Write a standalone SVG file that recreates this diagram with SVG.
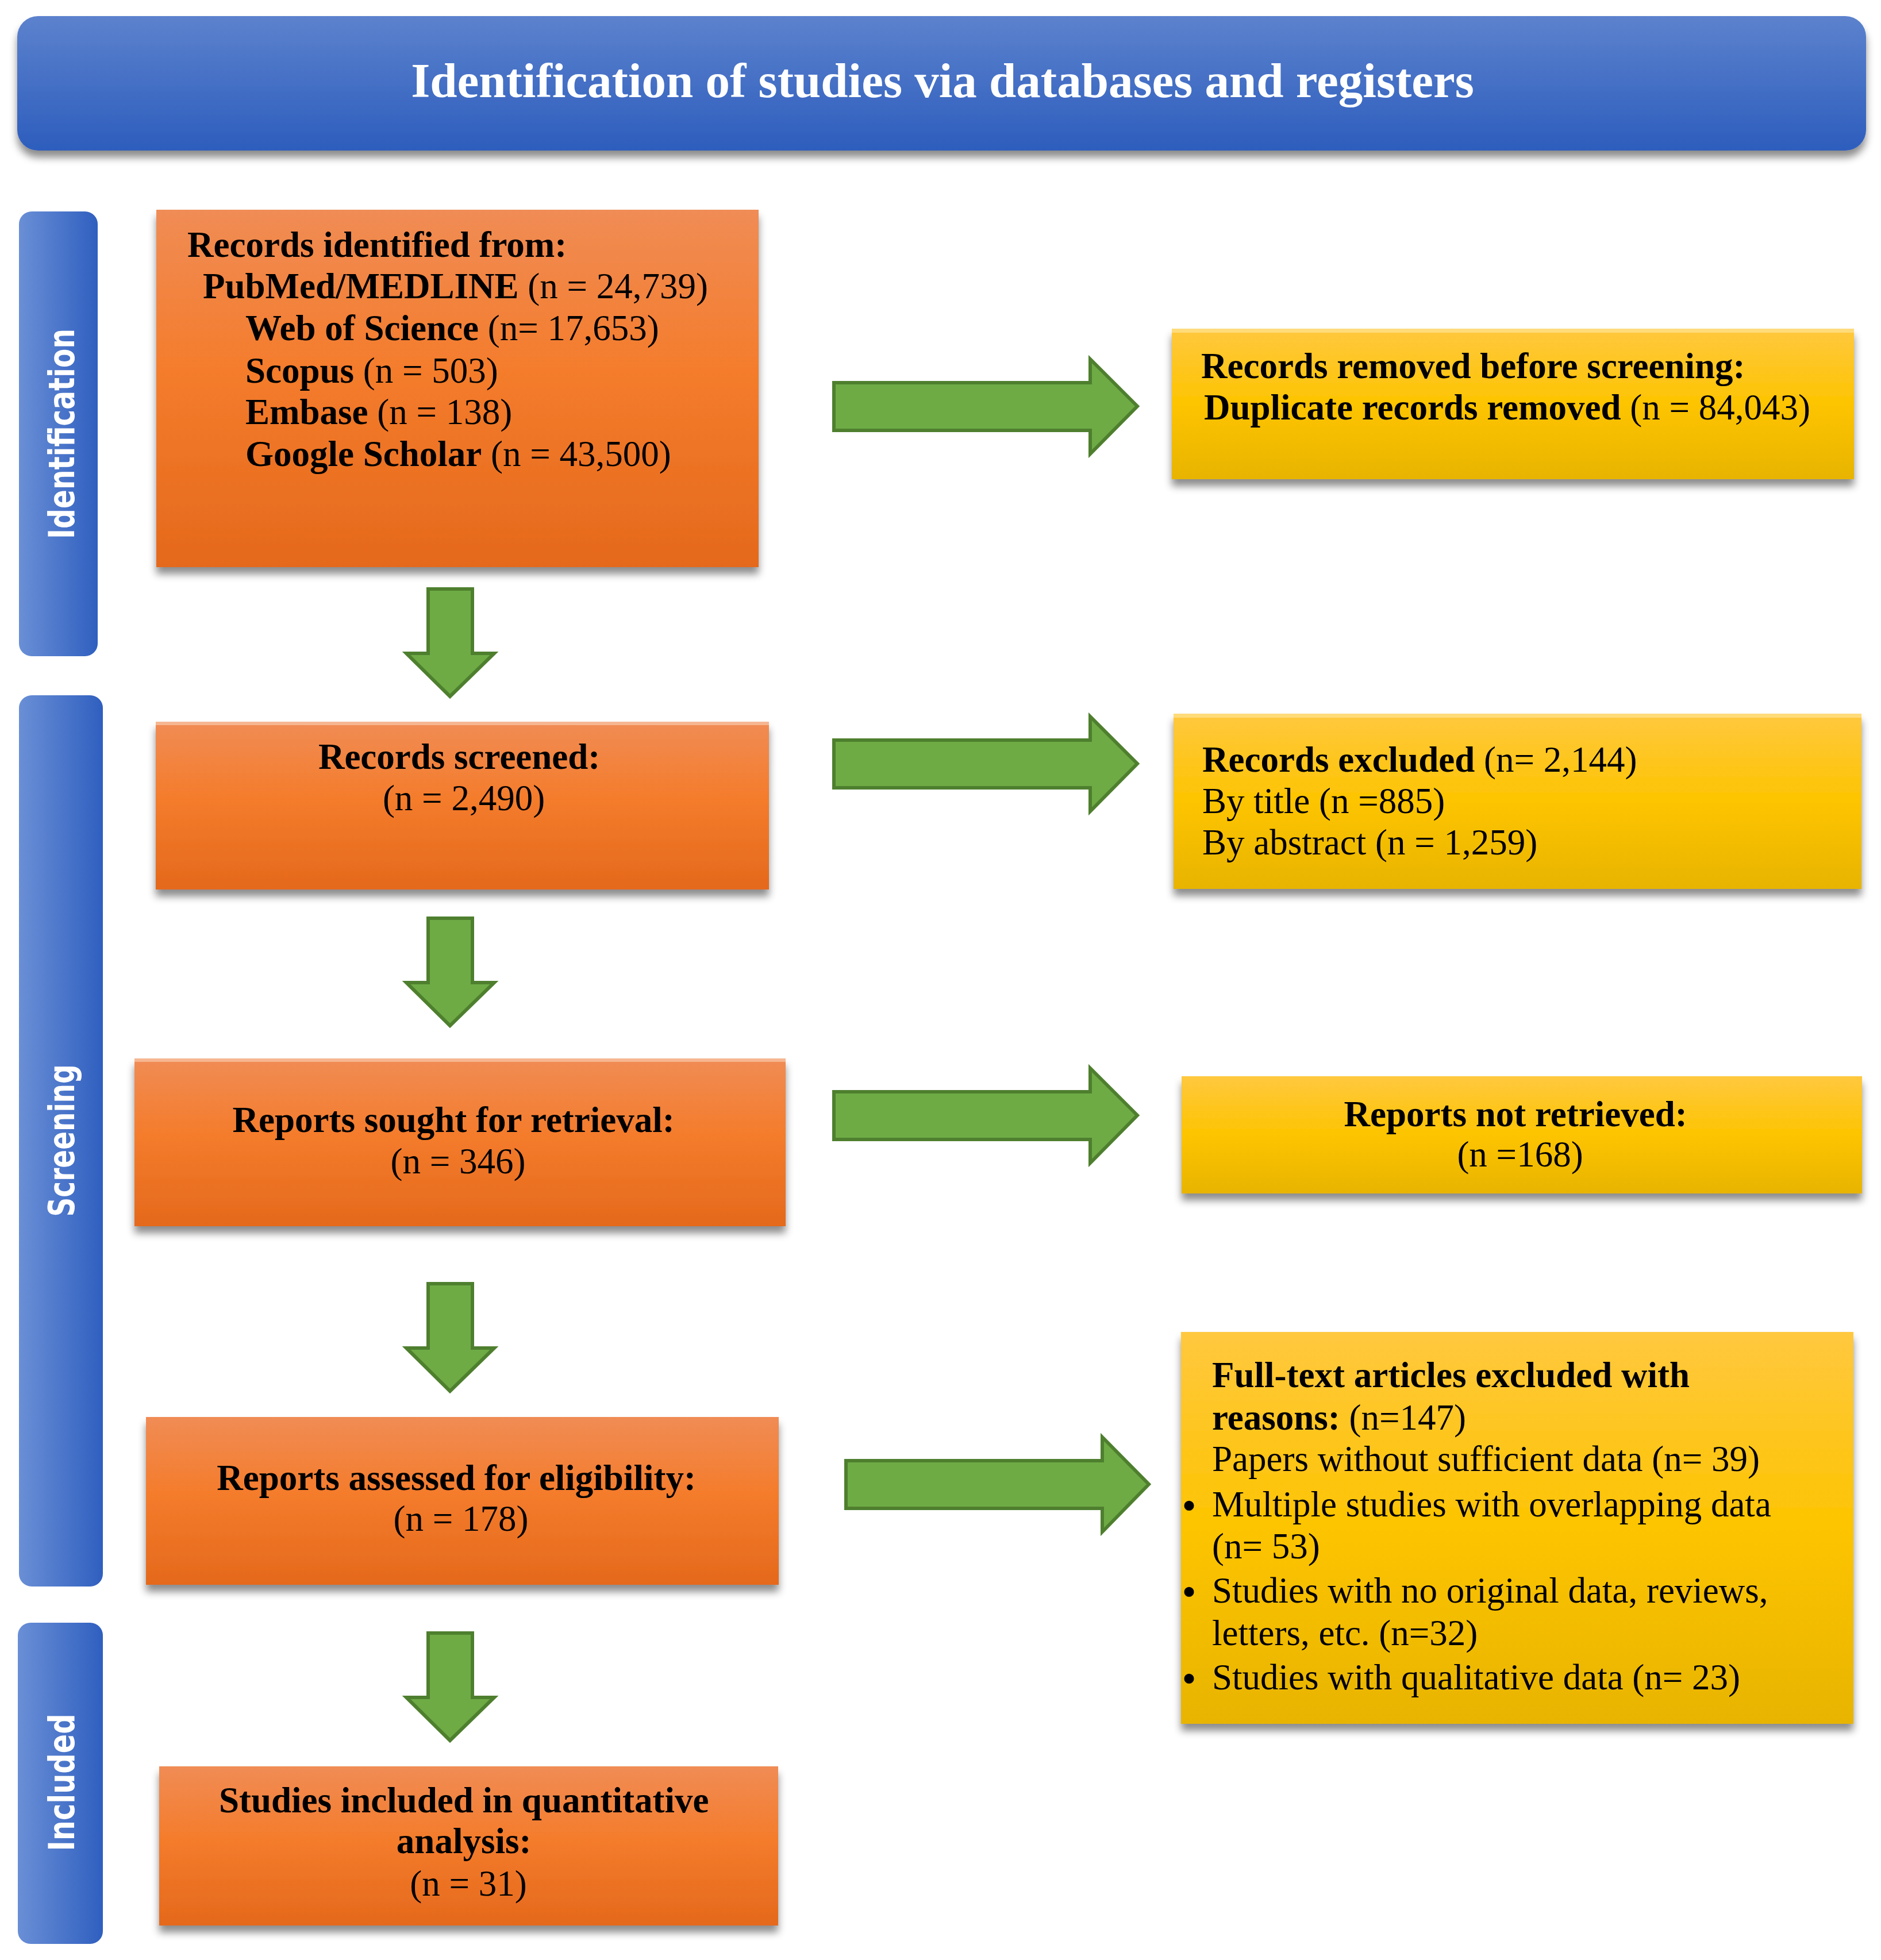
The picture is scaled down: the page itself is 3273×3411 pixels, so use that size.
<svg xmlns="http://www.w3.org/2000/svg" width="3273" height="3411" viewBox="0 0 3273 3411">
<defs>
<linearGradient id="gHead" x1="0" y1="0" x2="0" y2="1"><stop offset="0" stop-color="#5c82cd"/><stop offset="1" stop-color="#2d5dbd"/></linearGradient>
<linearGradient id="gSide" x1="0" y1="0" x2="1" y2="0"><stop offset="0" stop-color="#6a8fd6"/><stop offset="1" stop-color="#2f5fbf"/></linearGradient>
<linearGradient id="gOr" x1="0" y1="0" x2="0" y2="1"><stop offset="0" stop-color="#f08c55"/><stop offset="0.45" stop-color="#f47c2c"/><stop offset="1" stop-color="#e5691c"/></linearGradient>
<linearGradient id="gYe" x1="0" y1="0" x2="0" y2="1"><stop offset="0" stop-color="#ffc83f"/><stop offset="0.5" stop-color="#fdc400"/><stop offset="1" stop-color="#e8b400"/></linearGradient>
<filter id="sh" x="-5%" y="-10%" width="110%" height="130%"><feDropShadow dx="0" dy="12" stdDeviation="7" flood-color="#000" flood-opacity="0.45"/></filter>
</defs>
<style>
.t{font-family:"Liberation Serif","Times New Roman",serif;font-size:63px;fill:#000}
.b{font-weight:bold}
.c{text-anchor:middle}
.side{font-family:"DejaVu Sans",Verdana,sans-serif;font-weight:bold;font-size:48px;fill:#fff;text-anchor:middle}
.or{fill:url(#gOr);filter:url(#sh)}
.ye{fill:url(#gYe);filter:url(#sh)}
.ar{fill:#6eab45;stroke:#4e7f2e;stroke-width:6;stroke-linejoin:miter}
</style>
<rect width="3273" height="3411" fill="#fff"/>

<g id="header">
<rect x="30" y="28" width="3217" height="234" rx="36" fill="url(#gHead)" filter="url(#sh)"/>
<text x="1640" y="169" font-family="Liberation Serif,serif" font-weight="bold" font-size="85" fill="#fff" text-anchor="middle">Identification of studies via databases and registers</text>
</g>

<g id="side-identification">
<rect x="33" y="368" width="137" height="774" rx="22" fill="url(#gSide)"/>
<text class="side" transform="translate(129,755) rotate(-90) scale(1,1.28)" textLength="366" lengthAdjust="spacingAndGlyphs">Identification</text>
</g>
<g id="side-screening">
<rect x="33" y="1210" width="146" height="1551" rx="22" fill="url(#gSide)"/>
<text class="side" transform="translate(129,1985) rotate(-90) scale(1,1.28)" textLength="265" lengthAdjust="spacingAndGlyphs">Screening</text>
</g>
<g id="side-included">
<rect x="31" y="2824" width="148" height="559" rx="22" fill="url(#gSide)"/>
<text class="side" transform="translate(129,3102) rotate(-90) scale(1,1.28)" textLength="239" lengthAdjust="spacingAndGlyphs">Included</text>
</g>

<g id="connectors">
<path class="ar" d="M1451,666 H1897 V625 L1979,707 L1897,790 V749 H1451 Z"/>
<path class="ar" d="M1451,1288 H1897 V1247 L1979,1329 L1897,1412 V1371 H1451 Z"/>
<path class="ar" d="M1451,1900 H1897 V1859 L1979,1941 L1897,2024 V1983 H1451 Z"/>
<path class="ar" d="M1472,2542 H1918 V2501 L1999,2583 L1918,2666 V2625 H1472 Z"/>
<path class="ar" d="M745,1025 H822 V1137 H860 L783,1212 L707,1137 H745 Z"/>
<path class="ar" d="M745,1598 H822 V1710 H860 L783,1785 L707,1710 H745 Z"/>
<path class="ar" d="M745,2234 H822 V2346 H860 L783,2421 L707,2346 H745 Z"/>
<path class="ar" d="M745,2842 H822 V2954 H860 L783,3029 L707,2954 H745 Z"/>
</g>

<g id="records-identified">
<rect class="or" x="272" y="365" width="1048" height="622"/>
<text class="t"><tspan class="b" x="326" y="447">Records identified from:</tspan>
<tspan x="353" y="519"><tspan class="b">PubMed/MEDLINE</tspan> (n = 24,739)</tspan>
<tspan x="427" y="592"><tspan class="b">Web of Science</tspan> (n= 17,653)</tspan>
<tspan x="427" y="666"><tspan class="b">Scopus</tspan> (n = 503)</tspan>
<tspan x="427" y="738"><tspan class="b">Embase</tspan> (n = 138)</tspan>
<tspan x="427" y="811"><tspan class="b">Google Scholar</tspan> (n = 43,500)</tspan></text>
</g>

<g id="records-removed">
<rect class="ye" x="2039" y="572" width="1187" height="262"/>
<rect x="2039" y="572" width="1187" height="7" fill="#ffe08a" opacity="0.8"/>
<text class="t"><tspan class="b" x="2090" y="658">Records removed before screening:</tspan>
<tspan x="2095" y="730"><tspan class="b">Duplicate records removed</tspan> (n = 84,043)</tspan></text>
</g>

<g id="records-screened">
<rect class="or" x="271" y="1256" width="1067" height="292"/>
<rect x="271" y="1256" width="1067" height="6" fill="#f7c0a0" opacity="0.8"/>
<text class="t c"><tspan class="b" x="807" y="1338">Records screened:</tspan>
<tspan x="807" y="1410">(n = 2,490)</tspan></text>
</g>

<g id="records-excluded">
<rect class="ye" x="2042" y="1242" width="1197" height="305"/>
<rect x="2042" y="1242" width="1197" height="7" fill="#ffe08a" opacity="0.8"/>
<text class="t"><tspan x="2092" y="1343"><tspan class="b">Records excluded</tspan> (n= 2,144)</tspan>
<tspan x="2092" y="1415">By title (n =885)</tspan>
<tspan x="2092" y="1487">By abstract (n = 1,259)</tspan></text>
</g>

<g id="reports-sought">
<rect class="or" x="234" y="1842" width="1133" height="292"/>
<rect x="234" y="1842" width="1133" height="6" fill="#f7c0a0" opacity="0.8"/>
<text class="t c"><tspan class="b" x="797" y="1970">Reports sought for retrieval:</tspan>
<tspan x="797" y="2042">(n = 346)</tspan></text>
</g>

<g id="reports-not-retrieved">
<rect class="ye" x="2056" y="1873" width="1184" height="204"/>
<text class="t c"><tspan class="b" x="2645" y="1960">Reports not retrieved:</tspan>
<tspan x="2645" y="2030">(n =168)</tspan></text>
</g>

<g id="reports-assessed">
<rect class="or" x="254" y="2466" width="1101" height="292"/>
<text class="t c"><tspan class="b" x="802" y="2593">Reports assessed for eligibility:</tspan>
<tspan x="802" y="2664">(n = 178)</tspan></text>
</g>

<g id="fulltext-excluded">
<rect class="ye" x="2055" y="2318" width="1170" height="682"/>
<text class="t"><tspan class="b" x="2109" y="2414">Full-text articles excluded with</tspan>
<tspan x="2109" y="2488"><tspan class="b">reasons:</tspan> (n=147)</tspan>
<tspan x="2109" y="2560">Papers without sufficient data (n= 39)</tspan>
<tspan x="2109" y="2639">Multiple studies with overlapping data</tspan>
<tspan x="2109" y="2712">(n= 53)</tspan>
<tspan x="2109" y="2789">Studies with no original data, reviews,</tspan>
<tspan x="2109" y="2863">letters, etc. (n=32)</tspan>
<tspan x="2109" y="2940">Studies with qualitative data (n= 23)</tspan></text>
<text class="t b" font-size="70"><tspan x="2058" y="2641">•</tspan><tspan x="2058" y="2791">•</tspan><tspan x="2058" y="2942">•</tspan></text>
</g>

<g id="studies-included">
<rect class="or" x="277" y="3074" width="1077" height="277"/>
<text class="t c"><tspan class="b" x="815" y="3154">Studies included in quantitative</tspan>
<tspan class="b" x="815" y="3225">analysis:</tspan>
<tspan x="815" y="3299">(n = 31)</tspan></text>
</g>
</svg>
